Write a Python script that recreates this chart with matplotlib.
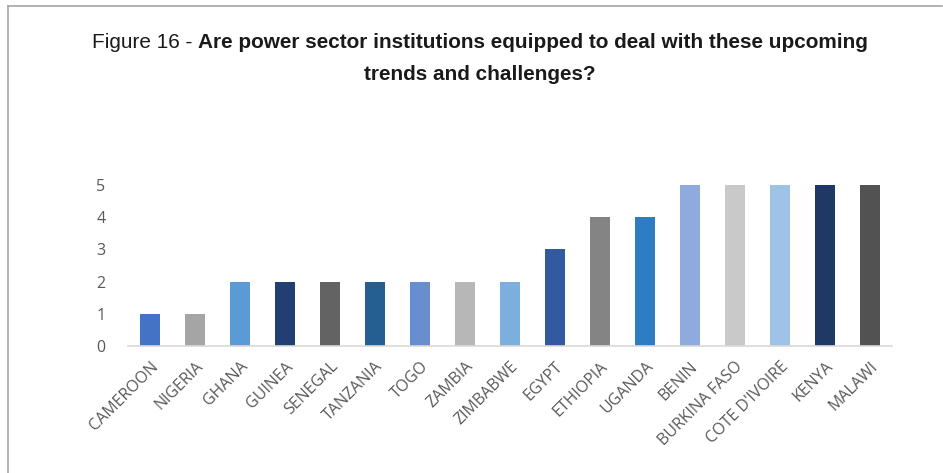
import matplotlib
import matplotlib.pyplot as plt
from matplotlib.lines import Line2D

matplotlib.use("Agg")

countries = ["CAMEROON", "NIGERIA", "GHANA", "GUINEA", "SENEGAL", "TANZANIA",
             "TOGO", "ZAMBIA", "ZIMBABWE", "EGYPT", "ETHIOPIA", "UGANDA",
             "BENIN", "BURKINA FASO", "COTE D'IVOIRE", "KENYA", "MALAWI"]
scores = [1, 1, 2, 2, 2, 2, 2, 2, 2, 3, 4, 4, 5, 5, 5, 5, 5]
bar_colors = ["#4472C4", "#A5A5A5", "#5B9BD5", "#223F74", "#636363", "#255E91",
              "#698ED0", "#B7B7B7", "#7CAFDD", "#335AA1", "#848484", "#2E7DC2",
              "#8FAADC", "#C9C9C9", "#9DC3E6", "#1F3864", "#525252"]
y_ticks = [0, 1, 2, 3, 4, 5]

title_lead = "Figure 16 - "
title_rest_1 = "Are power sector institutions equipped to deal with these upcoming"
title_rest_2 = "trends and challenges?"

W, H = 943, 473
fig = plt.figure(figsize=(W / 100, H / 100), dpi=100)

# frame lines along the top and left edge
fig.add_artist(Line2D([8 / W, 942 / W], [1 - 6 / H, 1 - 6 / H], color="#a6a6a6", lw=1.2))
fig.add_artist(Line2D([8 / W, 8 / W], [0, 1 - 6 / H], color="#a6a6a6", lw=1.2))

ax = fig.add_axes([127.5 / W, 127 / H, 765 / W, 161 / H])
x = range(len(countries))
ax.bar(x, scores, width=0.44, color=bar_colors)
ax.set_xlim(-0.5, len(countries) - 0.5)
ax.set_ylim(0, 5)
ax.set_yticks(y_ticks)
ax.set_xticks(list(x))
ax.set_xticklabels(countries, rotation=45, ha="right", rotation_mode="anchor",
                   fontsize=11.5, color="#595959", family="Open Sans")
for lbl in ax.get_yticklabels():
    lbl.set_family("Open Sans")
ax.tick_params(axis="y", length=0, pad=16, labelsize=11.5, labelcolor="#595959")
ax.tick_params(axis="x", length=0, pad=9)
for side in ["top", "right", "left"]:
    ax.spines[side].set_visible(False)
ax.spines["bottom"].set_color("#d9d9d9")
ax.spines["bottom"].set_linewidth(1.2)

# two-weight title, sized so the first line spans the chart width
size = 14
fig.canvas.draw()
r = fig.canvas.get_renderer()
probe_a = fig.text(0, 0, title_lead, fontsize=size, family="Liberation Sans")
probe_b = fig.text(0, 0, title_rest_1, fontsize=size, family="Liberation Sans",
                   weight="bold")
total = probe_a.get_window_extent(r).width + probe_b.get_window_extent(r).width
size = size * 778 / total
probe_a.remove()
probe_b.remove()

t_a = fig.text(0, 0, title_lead, fontsize=size, family="Liberation Sans",
               color="#1a1a1a", va="baseline")
t_b = fig.text(0, 0, title_rest_1, fontsize=size, family="Liberation Sans",
               weight="bold", color="#1a1a1a", va="baseline")
wa = t_a.get_window_extent(r).width
wb = t_b.get_window_extent(r).width
x0 = 480 - (wa + wb) / 2
t_a.set_position((x0 / W, 1 - 48 / H))
t_b.set_position(((x0 + wa) / W, 1 - 48 / H))
fig.text(480 / W, 1 - 80 / H, title_rest_2, fontsize=size, family="Liberation Sans",
         weight="bold", color="#1a1a1a", ha="center", va="baseline")

fig.savefig("out.png", dpi=100)
plt.close(fig)
